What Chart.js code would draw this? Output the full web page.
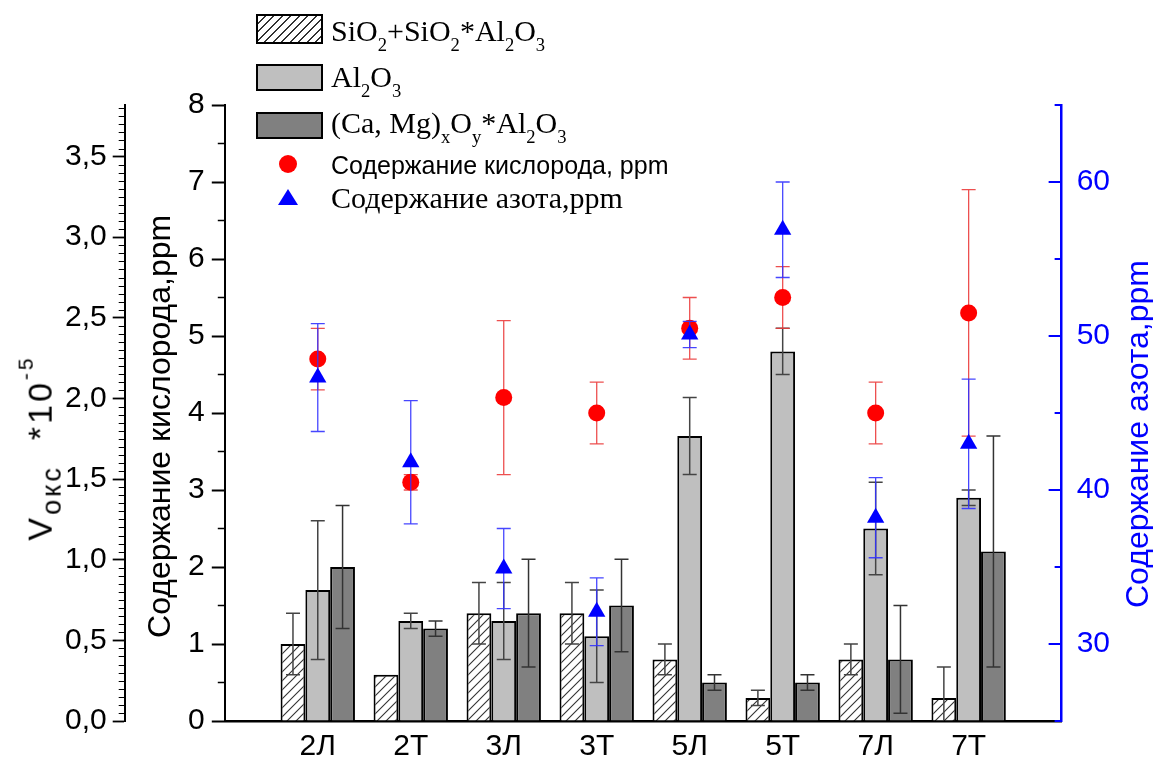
<!DOCTYPE html>
<html><head><meta charset="utf-8">
<script src="https://cdn.jsdelivr.net/npm/chart.js@4.4.0/dist/chart.umd.min.js"></script>
<style>
html,body{margin:0;padding:0;background:#fff;}
#wrap{position:relative;width:1153px;height:758px;overflow:hidden;background:#fff;}
canvas{position:absolute;left:0;top:0;}
.lg{position:absolute;white-space:nowrap;line-height:1;color:#000;}
.serif{font-family:'Liberation Serif','Times New Roman',serif;}
.sans{font-family:'Liberation Sans',Arial,sans-serif;}
.sb{font-size:0.62em;vertical-align:-0.55em;line-height:1;}
.box{position:absolute;border:2px solid #000;box-sizing:border-box;}
.hatch{background:repeating-linear-gradient(135deg,#fff 0px,#fff 4.6px,#333 4.6px,#333 6px);}
.rot{position:absolute;white-space:nowrap;line-height:1;transform:translate(-50%,-50%) rotate(-90deg);}
</style></head><body>
<div id="wrap">
<canvas id="c" width="1153" height="758"></canvas>

<div class="box hatch" style="left:256px;top:14px;width:67px;height:30px"></div>
<div class="lg serif" style="left:331px;top:16px;font-size:30px">SiO<span class="sb">2</span>+SiO<span class="sb">2</span>*Al<span class="sb">2</span>O<span class="sb">3</span></div>
<div class="box" style="left:256px;top:64px;width:67px;height:27px;background:#bfbfbf"></div>
<div class="lg serif" style="left:331px;top:62px;font-size:30px">Al<span class="sb">2</span>O<span class="sb">3</span></div>
<div class="box" style="left:256px;top:112px;width:67px;height:27px;background:#808080"></div>
<div class="lg serif" style="left:331px;top:108px;font-size:30px">(Ca, Mg)<span class="sb">x</span>O<span class="sb">y</span>*Al<span class="sb">2</span>O<span class="sb">3</span></div>
<div style="position:absolute;left:279px;top:155px;width:18px;height:18px;border-radius:50%;background:#f00"></div>
<div class="lg sans" style="left:331px;top:153px;font-size:25px">Содержание кислорода, ppm</div>
<div style="position:absolute;left:278px;top:189px;width:0;height:0;border-left:10px solid transparent;border-right:10px solid transparent;border-bottom:16px solid #00f"></div>
<div class="lg serif" style="left:331px;top:183px;font-size:30px">Содержание азота,ppm</div>

<div class="rot sans" style="left:40px;top:448px;font-size:34px;color:#000;letter-spacing:3px">V<span style="font-size:0.8em;vertical-align:-0.35em">окс</span>&nbsp;&nbsp;*10<span style="font-size:0.62em;vertical-align:0.9em">-5</span></div>
<div class="rot sans" style="left:1137px;top:434px;font-size:32px;color:#0000ff">Содержание азота,ppm</div>
</div>
<script>
// ---- data ----
const categories = ['2Л','2Т','3Л','3Т','5Л','5Т','7Л','7Т'];
const silicate    = [1.0, 0.6, 1.4, 1.4, 0.8, 0.3, 0.8, 0.3];
const silicateErr = [0.4, 0,   0.4, 0.4, 0.2, 0.1, 0.2, 0.4];
const alumina     = [1.7, 1.3, 1.3, 1.1, 3.7, 4.8, 2.5, 2.9];
const aluminaErr  = [0.9, 0.1, 0.5, 0.6, 0.5, 0.3, 0.6, 0.1];
const spinel      = [2.0, 1.2, 1.4, 1.5, 0.5, 0.5, 0.8, 2.2];
const spinelErr   = [0.8, 0.1, 0.7, 0.6, 0.1, 0.1, 0.7, 1.5];
const oxygen      = [4.7, 3.1, 4.2, 4.0, 5.1, 5.5, 4.0, 5.3];
const oxygenErr   = [0.4, 0.1, 1.0, 0.4, 0.4, 0.4, 0.4, 1.6];
const nitrogen    = [47.3, 41.8, 34.9, 32.1, 50.1, 56.9, 38.2, 43.0];
const nitrogenErr = [3.5, 4.0, 2.6, 2.2, 0.85, 3.1, 2.6, 4.2];
const vTicks = [0, 0.5, 1, 1.5, 2, 2.5, 3, 3.5];
const oTicks = [0, 1, 2, 3, 4, 5, 6, 7, 8];
const nTicks = [30, 40, 50, 60];

const SANS = "'Liberation Sans', Arial, sans-serif";
const pad = a => [null, ...a, null];
const labels = ['', ...categories, ''];

const canvas = document.getElementById('c');
const mainCtx = canvas.getContext('2d');
const hatch = (() => {
  const s = 9, c = document.createElement('canvas');
  c.width = s; c.height = s;
  const g = c.getContext('2d');
  g.fillStyle = '#fff'; g.fillRect(0, 0, s, s);
  g.strokeStyle = '#333'; g.lineWidth = 1.1;
  g.beginPath();
  g.moveTo(0, s); g.lineTo(s, 0);
  g.moveTo(-1, 1); g.lineTo(1, -1);
  g.moveTo(s - 1, s + 1); g.lineTo(s + 1, s - 1);
  g.stroke();
  return mainCtx.createPattern(c, 'repeat');
})();

function drawErr(chart, i) {
  const ds = chart.data.datasets[i];
  if (!ds.errors) return;
  const meta = chart.getDatasetMeta(i);
  const ys = chart.scales[meta.yAxisID];
  const ctx = chart.ctx, a = chart.chartArea;
  ctx.save();
  ctx.beginPath();
  ctx.rect(a.left, a.top - 4, a.right - a.left, a.bottom - a.top + 3);
  ctx.clip();
  ctx.strokeStyle = ds.errColor;
  ctx.lineWidth = ds.errWidth || 1.5;
  ds.data.forEach((v, j) => {
    const e = ds.errors[j];
    if (v == null || !e) return;
    const el = meta.data[j];
    const x = el.x;
    const y1 = ys.getPixelForValue(v + e), y2 = ys.getPixelForValue(v - e);
    const hw = ds.capW / 2;
    ctx.beginPath();
    ctx.moveTo(x, y1); ctx.lineTo(x, y2);
    ctx.moveTo(x - hw, y1); ctx.lineTo(x + hw, y1);
    ctx.moveTo(x - hw, y2); ctx.lineTo(x + hw, y2);
    ctx.stroke();
  });
  ctx.restore();
}

const errorBars = {
  id: 'errorBars',
  beforeDatasetDraw(chart, args) { if (chart.data.datasets[args.index].type !== 'bar') drawErr(chart, args.index); },
  afterDatasetDraw(chart, args) { if (chart.data.datasets[args.index].type === 'bar') drawErr(chart, args.index); }
};

const minorTicks = {
  id: 'minorTicks',
  afterDraw(chart) {
    const ctx = chart.ctx;
    ctx.save();
    const sv = chart.scales.yV;
    ctx.strokeStyle = '#000'; ctx.lineWidth = 1.2;
    ctx.beginPath();
    for (let k = 0; k * 0.05 <= sv.max + 1e-9; k++) {
      if (k % 10 === 0) continue;
      const y = Math.round(sv.getPixelForValue(k * 0.05)) + 0.5;
      ctx.moveTo(sv.right - 6, y); ctx.lineTo(sv.right, y);
    }
    ctx.stroke();
    const so = chart.scales.y;
    ctx.lineWidth = 1.5;
    ctx.beginPath();
    for (let k = 0; k < 8; k++) {
      const y = so.getPixelForValue(k + 0.5);
      ctx.moveTo(so.right - 7, y); ctx.lineTo(so.right, y);
    }
    ctx.stroke();
    const sn = chart.scales.yN;
    ctx.strokeStyle = '#0000ff'; ctx.lineWidth = 2;
    ctx.beginPath();
    for (let v = 25; v <= 65; v += 5) {
      const y = sn.getPixelForValue(v);
      const len = nTicks.includes(v) ? 13 : 7;
      ctx.moveTo(sn.left, y); ctx.lineTo(sn.left - len, y);
    }
    ctx.stroke();
    ctx.restore();
  }
};

new Chart(canvas, {
  type: 'bar',
  data: {
    labels,
    datasets: [
      { type: 'line', label: 'Содержание азота,ppm', data: pad(nitrogen), yAxisID: 'yN',
        showLine: false, pointStyle: 'triangle', pointRadius: 10, pointHoverRadius: 10,
        backgroundColor: '#0000ff', borderColor: '#0000ff', borderWidth: 0, order: 1,
        errors: pad(nitrogenErr), errColor: 'rgba(50,50,255,0.9)', errWidth: 1.3, capW: 14 },
      { type: 'line', label: 'Содержание кислорода, ppm', data: pad(oxygen), yAxisID: 'y',
        showLine: false, pointStyle: 'circle', pointRadius: 8.5, pointHoverRadius: 8.5,
        backgroundColor: '#ff0000', borderColor: '#ff0000', borderWidth: 0, order: 2,
        errors: pad(oxygenErr), errColor: 'rgba(235,60,60,0.9)', errWidth: 1.3, capW: 14 },
      { type: 'bar', label: 'SiO2+SiO2*Al2O3', data: pad(silicate), yAxisID: 'y',
        backgroundColor: hatch, borderColor: '#000', borderWidth: 2, order: 3,
        errors: pad(silicateErr), errColor: '#444', errWidth: 1.5, capW: 14 },
      { type: 'bar', label: 'Al2O3', data: pad(alumina), yAxisID: 'y',
        backgroundColor: '#bfbfbf', borderColor: '#000', borderWidth: 2, order: 3,
        errors: pad(aluminaErr), errColor: '#444', errWidth: 1.5, capW: 14 },
      { type: 'bar', label: '(Ca, Mg)xOy*Al2O3', data: pad(spinel), yAxisID: 'y',
        backgroundColor: '#808080', borderColor: '#000', borderWidth: 2, order: 3,
        errors: pad(spinelErr), errColor: '#333', errWidth: 1.5, capW: 14 }
    ]
  },
  options: {
    responsive: false,
    animation: false,
    devicePixelRatio: 1,
    datasets: { bar: { categoryPercentage: 0.8, barPercentage: 1.0 } },
    layout: { padding: { left: 59, right: 28, top: 105, bottom: -14 } },
    plugins: { legend: { display: false }, tooltip: { enabled: false } },
    scales: {
      x: {
        type: 'category', offset: false,
        grid: { display: false, drawTicks: false },
        border: { display: true, color: '#000', width: 2.5 },
        ticks: { font: { family: SANS, size: 30 }, color: '#000', padding: 7.5, autoSkip: false, maxRotation: 0 }
      },
      y: {
        position: 'left', weight: 0, min: 0, max: 8,
        afterBuildTicks: s => { s.ticks = oTicks.map(v => ({ value: v })); },
        ticks: { font: { family: SANS, size: 30 }, color: '#000', padding: 7 },
        grid: { drawOnChartArea: false, tickLength: 13, tickWidth: 2, tickColor: '#000' },
        border: { color: '#000', width: 2 },
        title: { display: true, text: 'Содержание кислорода,ppm\u00a0\u00a0\u00a0', font: { family: SANS, size: 32 },
                 color: '#000', padding: { top: 17, bottom: 1 } }
      },
      yV: {
        position: 'left', weight: 1, min: 0, max: 3.82,
        afterBuildTicks: s => { s.ticks = vTicks.map(v => ({ value: v })); },
        ticks: { font: { family: SANS, size: 30 }, color: '#000', padding: 6,
                 callback: v => Number(v).toFixed(1).replace('.', ',') },
        grid: { drawOnChartArea: false, tickLength: 12, tickWidth: 1.8, tickColor: '#000' },
        border: { color: '#000', width: 2 }
      },
      yN: {
        position: 'right', min: 25, max: 65,
        afterBuildTicks: s => { s.ticks = nTicks.map(v => ({ value: v })); },
        ticks: { font: { family: SANS, size: 30 }, color: '#0000ff', padding: 15 },
        grid: { drawOnChartArea: false, drawTicks: false },
        border: { color: '#0000ff', width: 2.5 }
      }
    }
  },
  plugins: [errorBars, minorTicks]
});
</script>
</body></html>
